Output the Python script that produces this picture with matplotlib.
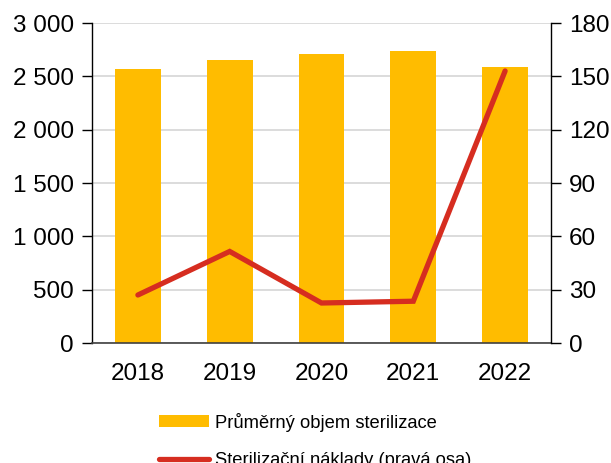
import numpy as np
import matplotlib.pyplot as plt
from matplotlib.ticker import FuncFormatter

plt.rcParams['font.family'] = ['Liberation Sans', 'DejaVu Sans']

years = ["2018", "2019", "2020", "2021", "2022"]
objem = [2570, 2655, 2710, 2737, 2592]
naklady = [27, 51.5, 22.5, 23.5, 153]

bar_color = "#FFBC00"
line_color = "#D62D20"

fig = plt.figure(figsize=(6.11, 4.63), dpi=100)
ax = fig.add_axes([92 / 611, 1 - 343 / 463, 459 / 611, 320 / 463])
x = np.arange(len(years))

ax.bar(x, objem, width=0.5, color=bar_color, zorder=2,
       label="Průměrný objem sterilizace")
ax.set_xlim(-0.5, len(years) - 0.5)
ax.set_ylim(0, 3000)
ax.set_yticks(np.arange(0, 3001, 500))
ax.yaxis.set_major_formatter(FuncFormatter(lambda v, p: f"{int(v):,}".replace(",", " ")))
ax.grid(axis='y', color='#D9D9D9', linewidth=1.3, zorder=0)
ax.set_axisbelow(True)
ax.set_xticks(x)
ax.set_xticklabels(years)
ax.tick_params(axis='x', length=0, labelsize=17.5, pad=14.5)
ax.tick_params(axis='y', length=7, width=1, labelsize=17.5, pad=6)
for s in ['top', 'right']:
    ax.spines[s].set_visible(False)
ax.spines['left'].set_linewidth(1)
ax.spines['bottom'].set_color('#404040')
ax.spines['bottom'].set_linewidth(1.2)

ax2 = ax.twinx()
ax2.plot(x, naklady, color=line_color, linewidth=3.8, solid_capstyle='round',
         solid_joinstyle='miter', zorder=3, label="Sterilizační náklady (pravá osa)")
ax2.set_ylim(0, 180)
ax2.set_yticks(np.arange(0, 181, 30))
ax2.tick_params(axis='y', length=7, width=1, labelsize=17.5, pad=6)
for s in ['top', 'left', 'bottom']:
    ax2.spines[s].set_visible(False)
ax2.spines['right'].set_linewidth(1)

h1, l1 = ax.get_legend_handles_labels()
h2, l2 = ax2.get_legend_handles_labels()
fig.legend(h1 + h2, l1 + l2, loc='upper left', bbox_to_anchor=(142 / 611, 1 - 396 / 463),
           frameon=False, fontsize=13.2, handlelength=2.75, handleheight=0.6,
           labelspacing=1.1, handletextpad=0.35)

fig.savefig("out.png", dpi=100)
